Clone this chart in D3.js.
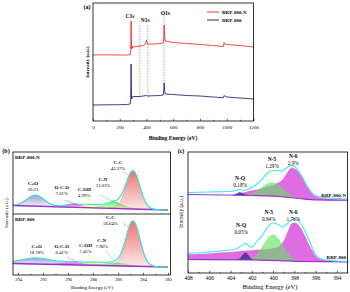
<!DOCTYPE html>
<html lang="en">
<head>
<meta charset="UTF-8">
<title>XPS spectra</title>
<script src="https://d3js.org/d3.v7.min.js"></script>
<style>
    body { margin: 0; background: #fff; }
    svg text { font-family: "Liberation Serif", "DejaVu Serif", serif; fill: #000; }
</style>
</head>
<body>
<svg id="fig" width="350" height="292"></svg>
<script>
// ---------- (a) survey spectra: [binding energy, intensity]
const surveyTicks = [0, 200, 400, 600, 800, 1000, 1200];
const surveyN = [[0,660],[100,662],[200,660],[250,660],[278,665],[281,680],[283,810],[285,1000],[286.5,860],[288,740],[290,720],[292,750],[295,730],[300,740],[320,745],[350,750],[380,755],[395,780],[400,810],[405,770],[420,770],[450,770],[500,775],[525,780],[529,830],[532,960],[535,850],[540,800],[560,795],[600,785],[700,775],[800,765],[900,755],[965,745],[975,745],[980,785],[988,770],[1000,765],[1100,755],[1200,740]];
const survey800 = [[0,160],[100,162],[200,163],[250,165],[278,170],[281,190],[283,360],[285,570],[286.5,410],[288,240],[290,220],[293,240],[300,245],[350,245],[400,255],[410,250],[500,255],[525,260],[529,310],[532,380],[535,310],[540,270],[600,265],[700,255],[800,250],[900,240],[965,233],[975,233],[980,255],[988,245],[1000,240],[1100,230],[1200,220]];
const surveyPeaks = ["C1s", "N1s", "O1s"];
const seriesNames = ["RRP-800-N", "RRP-800"];

// ---------- (b) C 1s
const c1sTicks = [294, 292, 290, 288, 286, 284, 282];
const c1sNames = ["C=O", "O-C-O", "C-OH", "C-N", "C-C"];
const c1sPctN = ["20.23", "7.01%", "4.99%", "13.03%", "42.37%"];
const c1sPct800 = ["18.78%", "6.41%", "7.45%", "7.96%", "56.64%"];

const c1sN_base = [[294.4,85],[288,62],[282,40]];
const c1sN_CO = [[294.4,4],[294.0,13],[293.65,36],[293.3,67],[292.95,97],[292.6,110],[292.25,97],[291.9,67],[291.55,36],[291.2,15],[290.85,5],[290.5,1]];
const c1sN_OCO = [[291.3,0],[290.7,5],[290.4,12],[290.1,21],[289.8,31],[289.5,35],[289.2,31],[288.9,21],[288.6,12],[288.3,5],[287.7,0]];
const c1sN_COH = [[289.8,0],[289.2,4],[288.9,10],[288.6,18],[288.3,27],[288.0,30],[287.7,27],[287.4,18],[287.1,10],[286.8,4],[286.2,0]];
const c1sN_CN = [[288.3,0],[287.8,5],[287.5,12],[287.2,25],[286.9,42],[286.6,58],[286.3,65],[286.0,58],[285.7,42],[285.4,25],[285.1,12],[284.8,5],[284.3,0]];
const c1sN_CC = [[286.8,1],[286.3,9],[286.05,29],[285.8,73],[285.55,150],[285.3,251],[285.05,343],[284.8,380],[284.55,343],[284.3,251],[284.05,150],[283.8,73],[283.55,29],[283.3,9],[282.8,1]];
const c1sN_fit = [[294.4,89],[294.0,97],[293.5,130],[293.0,173],[292.6,189],[292.2,170],[291.8,134],[291.4,100],[291.0,84],[290.5,82],[290.0,94],[289.5,103],[289.0,98],[288.5,97],[288.0,95],[287.5,93],[287.0,102],[286.5,123],[286.0,148],[285.5,252],[285.2,360],[285.0,416],[284.8,435],[284.6,408],[284.3,299],[284.0,179],[283.7,97],[283.4,60],[283.0,46],[282.5,42],[282.0,40]];

const c1s800_base = [[294.4,115],[282,80]];
const c1s800_CO = [[294.4,21],[294.0,31],[293.5,45],[293.0,56],[292.5,60],[292.0,56],[291.5,45],[291.0,31],[290.5,18],[290.0,9],[289.5,4],[289.0,2],[288.5,0]];
const c1s800_OCO = [[291.75,1],[291.3,3],[290.85,8],[290.4,15],[289.95,22],[289.5,25],[289.05,22],[288.6,15],[288.15,8],[287.7,3],[287.25,1]];
const c1s800_COH = [[289.8,1],[289.4,3],[289.0,8],[288.6,15],[288.2,22],[287.8,25],[287.4,22],[287.0,15],[286.6,8],[286.2,3],[285.8,1]];
const c1s800_CN = [[288.2,1],[287.8,4],[287.4,10],[287.0,18],[286.6,26],[286.2,30],[285.8,26],[285.4,18],[285.0,10],[284.6,4],[284.2,1]];
const c1s800_CC = [[286.8,1],[286.3,11],[286.05,34],[285.8,86],[285.55,178],[285.3,298],[285.05,406],[284.8,450],[284.55,406],[284.3,298],[284.05,178],[283.8,86],[283.55,34],[283.3,11],[282.8,1]];
const c1s800_fit = [[294.4,136],[294.0,145],[293.5,157],[293.0,167],[292.5,170],[292.0,164],[291.5,152],[291.0,142],[290.5,136],[290.0,133],[289.5,133],[289.0,131],[288.5,129],[288.0,129],[287.5,129],[287.0,127],[286.5,132],[286.0,164],[285.5,310],[285.2,449],[285.0,520],[284.8,544],[284.6,512],[284.3,386],[284.0,242],[283.7,146],[283.4,102],[283.0,85],[282.5,81],[282.0,80]];

// ---------- (c) N 1s
const n1sTicks = [408, 406, 404, 402, 400, 398, 396, 394];
const n1sNames = ["N-Q", "N-5", "N-6"];
const n1sPctN = ["0.18%", "1.29%", "2.9%"];
const n1sPct800 = ["0.05%", "0.94%", "1.76%"];

const n1sN_base = [[408,785],[402,775],[399.5,765],[398,750],[397,738],[396,732],[393,728]];
const n1sN_Q = [[404.0,0],[403.7,5],[403.4,18],[403.1,30],[402.8,18],[402.5,5],[402.2,0]];
const n1sN_5 = [[403.1,1.5],[402.6,6],[402.1,19],[401.6,45],[401.1,85],[400.6,124],[400.1,140],[399.6,124],[399.1,85],[398.6,45],[398.1,19],[397.6,6],[397.1,1.5]];
const n1sN_6 = [[403.8,0],[403,20],[402.3,45],[401.5,62],[401,77],[400.5,98],[400,113],[399.6,135],[399.2,162],[398.8,225],[398.5,275],[398.2,300],[397.9,290],[397.6,265],[397.2,204],[396.8,127],[396.4,69],[396,35],[395.5,22],[395,14],[394,6],[393,3]];
const n1sN_fit = [[408,805],[406,810],[404,818],[403.4,825],[403.1,838],[402.8,825],[402.3,840],[401.5,890],[401,945],[400.5,1000],[400,1025],[399.6,1022],[399.2,1020],[398.8,1045],[398.3,1075],[398,1068],[397.6,1020],[397.2,950],[396.8,870],[396.4,810],[396,775],[395,752],[394,745],[393,740]];

const n1s800_base = [[408,135],[402,130],[399,122],[397,115],[393,112]];
const n1s800_Q = [[403.5,1],[403.2,10],[402.9,45],[402.6,75],[402.3,45],[402.0,10],[401.7,1]];
const n1s800_5 = [[402.7,3],[402.25,11],[401.8,35],[401.35,84],[400.9,158],[400.45,229],[400.0,260],[399.55,229],[399.1,158],[398.65,84],[398.2,35],[397.75,11],[397.3,3]];
const n1s800_6 = [[408,50],[406,62],[404.5,75],[403.5,85],[402.5,95],[401.5,105],[400.5,112],[400,122],[399.5,140],[399,200],[398.6,300],[398.2,380],[397.9,385],[397.5,350],[397.1,280],[396.7,190],[396.3,110],[396,55],[395.5,25],[395,12],[394,4],[393,1]];
const n1s800_fit = [[408,195],[406,210],[404.5,225],[403.5,240],[403,270],[402.6,300],[402.2,265],[402,260],[401.5,320],[401,380],[400.5,460],[400.1,500],[399.6,490],[399.1,460],[398.7,490],[398.2,535],[397.9,540],[397.5,510],[397.1,440],[396.7,350],[396.3,250],[396,180],[395.5,140],[395,130],[394,120],[393,115]];

// ----------------------------------------------------------------
const svg = d3.select("#fig");
const defs = svg.append("defs");

const c1sColors = ["#9d9dd6", "#dd44dd", "#ffff55", "#66ee66", "#f06a6a"];
c1sColors.forEach((c, i) => {
    const g = defs.append("linearGradient").attr("id", "grad" + i)
        .attr("x1", 0).attr("y1", 0).attr("x2", 0).attr("y2", 1);
    g.append("stop").attr("offset", 0).attr("stop-color", c).attr("stop-opacity", 0.95);
    g.append("stop").attr("offset", 1).attr("stop-color", c).attr("stop-opacity", 0.15);
});

function baseScale(pts) {
    return d3.scaleLinear().domain(pts.map(d => d[0])).range(pts.map(d => d[1]));
}
function peakArea(x, y, base) {
    return d3.area().curve(d3.curveMonotoneX)
        .x(d => x(d[0])).y0(d => y(base(d[0]))).y1(d => y(base(d[0]) + d[1]));
}
function specLine(x, y, curve) {
    return d3.line().curve(curve || d3.curveMonotoneX).x(d => x(d[0])).y(d => y(d[1]));
}
function bottomAxis(g, x, y0, major, minor, fs, pad) {
    g.append("g").attr("transform", `translate(0,${y0})`)
        .call(d3.axisBottom(x).tickValues(minor).tickSize(-1.2).tickFormat(""))
        .call(a => a.select(".domain").remove())
        .call(a => a.selectAll("line").attr("stroke-width", 0.6));
    g.append("g").attr("transform", `translate(0,${y0})`)
        .call(d3.axisBottom(x).tickValues(major).tickSize(-2.2).tickPadding(pad).tickFormat(d3.format("d")))
        .call(a => a.select(".domain").remove())
        .call(a => a.selectAll("line").attr("stroke-width", 0.6))
        .call(a => a.selectAll("text").attr("font-size", fs).attr("font-family", "Liberation Serif"));
}
function frame(x0, y0, x1, y1) {
    svg.append("rect").attr("x", x0).attr("y", y0).attr("width", x1 - x0).attr("height", y1 - y0)
        .attr("fill", "none").attr("stroke", "#000").attr("stroke-width", 0.8);
}
function vLabel(x, y, txt, fs, bold) {
    svg.append("text").attr("transform", `translate(${x},${y}) rotate(-90)`)
        .attr("text-anchor", "middle").attr("font-size", fs)
        .attr("font-weight", bold ? "bold" : "normal").text(txt);
}
function peakLabel(x, y, E, v, name, pct, fs) {
    svg.append("text").attr("x", x(E)).attr("y", y(v)).attr("text-anchor", "middle")
        .attr("font-size", fs).attr("font-weight", "bold").text(name);
    svg.append("text").attr("x", x(E)).attr("y", y(v) + fs * 1.2).attr("text-anchor", "middle")
        .attr("font-size", fs * 0.95).text(pct);
}

// ================= (a) survey =================
const ax = d3.scaleLinear().domain([0, 1200]).range([93, 253.5]);
const ay = d3.scaleLinear().domain([0, 1180]).range([121, 3]);

// dashed guides
[[350, 960, 230], [410, 960, 230], [532, 1060, 370]].forEach(d => {
    svg.append("line").attr("x1", ax(d[0])).attr("x2", ax(d[0])).attr("y1", ay(d[1])).attr("y2", ay(d[2]))
        .attr("stroke", "#777").attr("stroke-width", 0.6).attr("stroke-dasharray", "1.5,1.2");
});
svg.append("path").datum(surveyN).attr("d", specLine(ax, ay, d3.curveLinear))
    .attr("fill", "none").attr("stroke", "#ff1a1a").attr("stroke-width", 0.8);
svg.append("path").datum(survey800).attr("d", specLine(ax, ay, d3.curveLinear))
    .attr("fill", "none").attr("stroke", "#10107a").attr("stroke-width", 0.8);

frame(93, 3, 253.5, 121);
bottomAxis(svg, ax, 121, surveyTicks, d3.range(100, 1200, 200), 5, 4.6);

const peakPos = [[277, 1035], [390, 995], [540, 1065]];
surveyPeaks.forEach((p, i) => {
    svg.append("text").attr("x", ax(peakPos[i][0])).attr("y", ay(peakPos[i][1]))
        .attr("text-anchor", "middle").attr("font-size", 5.5).attr("font-weight", "bold").text(p);
});

svg.append("text").attr("x", 173).attr("y", 140).attr("text-anchor", "middle")
    .attr("font-size", 5.5).attr("font-weight", "bold").text("Binding Energy (eV)");
vLabel(89, 62, "Intensity (a.u.)", 5, true);
svg.append("text").attr("x", 87).attr("y", 8.5).attr("text-anchor", "middle")
    .attr("font-size", 6).attr("font-weight", "bold").text("(a)");

// legend
[["#ff1a1a", 12], ["#10107a", 20]].forEach((d, i) => {
    svg.append("line").attr("x1", 207).attr("x2", 219).attr("y1", d[1]).attr("y2", d[1])
        .attr("stroke", d[0]).attr("stroke-width", 0.9);
    svg.append("text").attr("x", 222).attr("y", d[1] + 1.8).attr("font-size", 5)
        .attr("font-weight", "bold").text(seriesNames[i]);
});

// ================= (b) C 1s =================
const bx = d3.scaleLinear().domain([294.4, 281.8]).range([13, 170.5]);
const byTop = d3.scaleLinear().domain([0, 620]).range([214, 152]);
const byBot = d3.scaleLinear().domain([0, 610]).range([275, 214]);

function drawC1s(y, base, comps, fit) {
    const bs = baseScale(base);
    comps.forEach((c, i) => {
        svg.append("path").datum(c).attr("d", peakArea(bx, y, bs))
            .attr("fill", `url(#grad${i})`).attr("stroke", c1sColors[i]).attr("stroke-width", 0.4);
    });
    svg.append("path").datum(base).attr("d", specLine(bx, y, d3.curveLinear))
        .attr("fill", "none").attr("stroke", "#9b30d0").attr("stroke-width", 1.3);
    svg.append("path").datum(fit).attr("d", specLine(bx, y))
        .attr("fill", "none").attr("stroke", "#2fe3d2").attr("stroke-width", 1.1);
}
drawC1s(byTop, c1sN_base, [c1sN_CO, c1sN_OCO, c1sN_COH, c1sN_CN, c1sN_CC], c1sN_fit);
drawC1s(byBot, c1s800_base, [c1s800_CO, c1s800_OCO, c1s800_COH, c1s800_CN, c1s800_CC], c1s800_fit);

// leader lines
const leadColors = ["#dd44dd", "#e8e840", "#55dd55", "#f07a9a"];
[[byTop, [[290.24,140,289.28,90],[288.56,170,287.84,110],[287.44,190,285.44,70],[285.68,430,285.2,390]]],
 [byBot, [[290.08,180,289.28,130],[288.4,200,287.68,150],[287.04,250,286.4,150],[285.68,520,285.2,480]]]]
    .forEach(([y, segs]) => segs.forEach((s, i) => {
        svg.append("line").attr("x1", bx(s[0])).attr("y1", y(s[1])).attr("x2", bx(s[2])).attr("y2", y(s[3]))
            .attr("stroke", leadColors[i]).attr("stroke-width", 0.5);
    }));

const c1sLabTop = [[292.8, 290], [290.5, 250], [288.7, 230], [287.2, 330], [286.0, 500]];
const c1sLabBot = [[292.5, 270], [290.5, 270], [288.6, 280], [287.3, 330], [286.6, 560]];
c1sNames.forEach((n, i) => {
    peakLabel(bx, byTop, c1sLabTop[i][0], c1sLabTop[i][1], n, c1sPctN[i], 5);
    peakLabel(bx, byBot, c1sLabBot[i][0], c1sLabBot[i][1], n, c1sPct800[i], 5);
});

frame(13, 152, 170.5, 275);
svg.append("line").attr("x1", 13).attr("x2", 170.5).attr("y1", 214).attr("y2", 214)
    .attr("stroke", "#000").attr("stroke-width", 0.8);
bottomAxis(svg, bx, 275, c1sTicks, d3.range(293, 281, -2), 4.5, 2.8);

svg.append("text").attr("x", 15).attr("y", 159).attr("font-size", 5).attr("font-weight", "bold").text(seriesNames[0]);
svg.append("text").attr("x", 15).attr("y", 221).attr("font-size", 5).attr("font-weight", "bold").text(seriesNames[1]);
svg.append("text").attr("x", 92).attr("y", 288.5).attr("text-anchor", "middle").attr("font-size", 5).text("Binding Energy (eV)");
vLabel(7.5, 213, "Intensity (a.u.)", 5, false);
svg.append("text").attr("x", 6).attr("y", 153).attr("text-anchor", "middle")
    .attr("font-size", 6).attr("font-weight", "bold").text("(b)");

// ================= (c) N 1s =================
const cx = d3.scaleLinear().domain([408, 393]).range([188, 347.5]);
const cy = d3.scaleLinear().domain([0, 1210]).range([273, 152]);

function drawN1s(base, q, n5, n6, fit) {
    const bs = baseScale(base);
    svg.append("path").datum(n6).attr("d", peakArea(cx, cy, bs)).attr("fill", "#e06ce4");
    svg.append("path").datum(n5).attr("d", peakArea(cx, cy, bs)).attr("fill", "#5fe35f").attr("fill-opacity", 0.62);
    svg.append("path").datum(q).attr("d", peakArea(cx, cy, bs)).attr("fill", "#54409c");
    svg.append("path").datum(base).attr("d", specLine(cx, cy))
        .attr("fill", "none").attr("stroke", "#9b30d0").attr("stroke-width", 1.2);
    svg.append("path").datum(fit).attr("d", specLine(cx, cy))
        .attr("fill", "none").attr("stroke", "#3ee6f0").attr("stroke-width", 1.1);
}
drawN1s(n1sN_base, n1sN_Q, n1sN_5, n1sN_6, n1sN_fit);
drawN1s(n1s800_base, n1s800_Q, n1s800_5, n1s800_6, n1s800_fit);

const n1sLabTop = [[403.1, 930], [400.1, 1120], [398.1, 1150]];
const n1sLabBot = [[403.0, 460], [400.4, 590], [398.1, 590]];
n1sNames.forEach((n, i) => {
    peakLabel(cx, cy, n1sLabTop[i][0], n1sLabTop[i][1], n, n1sPctN[i], 5.5);
    peakLabel(cx, cy, n1sLabBot[i][0], n1sLabBot[i][1], n, n1sPct800[i], 5.5);
});
svg.append("text").attr("x", 346).attr("y", 197).attr("text-anchor", "end")
    .attr("font-size", 5).attr("font-weight", "bold").text(seriesNames[0]);
svg.append("text").attr("x", 346).attr("y", 259).attr("text-anchor", "end")
    .attr("font-size", 5).attr("font-weight", "bold").text(seriesNames[1]);

frame(188, 152, 347.5, 273);
bottomAxis(svg, cx, 273, n1sTicks, d3.range(407, 392, -2), 5.5, 3.1);
svg.append("text").attr("x", 270).attr("y", 288.5).attr("text-anchor", "middle").attr("font-size", 6.5).text("Binding Energy (eV)");
vLabel(183, 212, "Intensity (a.u.)", 5.5, false);
svg.append("text").attr("x", 181).attr("y", 152.5).attr("text-anchor", "middle")
    .attr("font-size", 6).attr("font-weight", "bold").text("(c)");
</script>
</body>
</html>
